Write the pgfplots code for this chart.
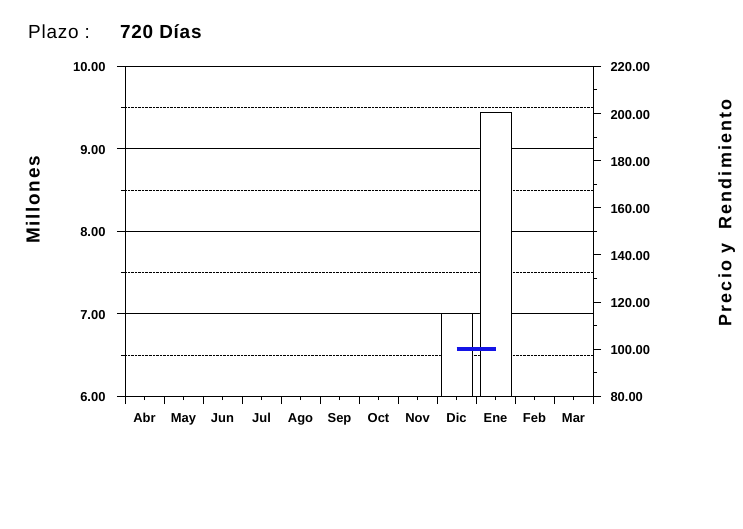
\documentclass[border=0pt]{standalone}
\usepackage{fontspec}
\setmainfont{Liberation Sans}
\usepackage{pgfplots}
\pgfplotsset{compat=1.18}
\definecolor{barblue}{HTML}{1414E6}

\begin{document}
\begin{tikzpicture}
\path[use as bounding box] (-125bp,-133bp) rectangle (618bp,396bp);
\pgfplotsset{
  common/.style={
    at={(0,0)}, anchor=south west,
    scale only axis, width=468bp, height=330bp,
    xmin=-0.5, xmax=11.5,
    tick align=outside,
    major tick length=8bp, minor tick length=4bp,
    tick style={black, thin},
    ticklabel style={font=\fontsize{13}{15}\selectfont\bfseries},
    /pgf/number format/assume math mode=true,
    /pgf/number format/.cd, fixed, fixed zerofill, precision=2,
  },
}
\begin{axis}[
  common,
  ymin=6, ymax=10,
  tick pos=left,
  xtick={-0.5,0.5,...,11.5},
  xticklabels={},
  minor x tick num=1,
  extra x ticks={0,...,11},
  extra x tick labels={Abr,May,Jun,Jul,Ago,Sep,Oct,Nov,Dic,Ene,Feb,Mar},
  extra x tick style={major tick length=3bp, grid=none,
    xticklabel style={yshift=-13bp, text height=0.75em, text depth=0.2em}},
  yticklabel style={xshift=-8bp, yshift=-1.5bp},
  ytick={6,7,8,9,10},
  minor ytick={6.5,7.5,8.5,9.5},
  ymajorgrids, yminorgrids,
  major grid style={black, thin},
  minor grid style={black, densely dotted, thin},
  ylabel={\fontsize{19}{21}\selectfont\bfseries\addfontfeature{LetterSpace=9}Millones},
  ylabel style={at={(axis description cs:-0.197,0.594)}, anchor=center, rotate=0},
  axis line style={black, thin},
]
\addplot[ybar, bar width=0.8, bar shift=0, fill=white, draw=black, thin]
  coordinates {(8,7.00) (9,9.44)};
\end{axis}
\begin{axis}[
  common,
  ymin=80, ymax=220,
  axis y line*=right,
  axis x line=none,
  ytick={80,100,...,220},
  minor ytick={90,110,...,210},
  yticklabel style={xshift=6bp, yshift=-1.5bp},
  ylabel={\fontsize{18}{20}\selectfont\bfseries\addfontfeature{LetterSpace=12}Precio y\ \ Rendimiento},
  ylabel style={at={(axis description cs:1.286,0.555)}, anchor=center, rotate=0},
]
\addplot[barblue, line width=4.5bp] coordinates {(8,100) (9,100)};
\end{axis}
\node[anchor=base west, inner sep=0pt, font=\fontsize{19}{21}\selectfont\addfontfeature{LetterSpace=4}] at (-97bp,357bp) {Plazo :};
\node[anchor=base west, inner sep=0pt, font=\fontsize{19}{21}\selectfont\bfseries\addfontfeature{LetterSpace=4}] at (-5bp,357bp) {720 Días};
\end{tikzpicture}
\end{document}
